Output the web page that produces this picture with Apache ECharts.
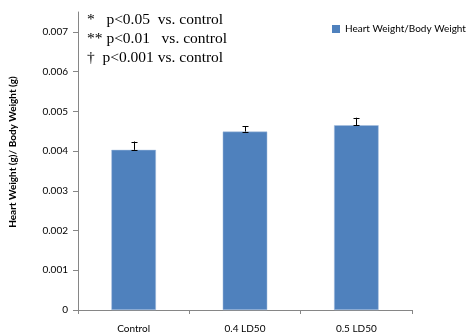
<!DOCTYPE html>
<html><head><meta charset="utf-8">
<script src="https://cdn.jsdelivr.net/npm/echarts@6/dist/echarts.min.js"></script>
<style>html,body{margin:0;padding:0;background:#fff}#c{width:468px;height:334px}</style>
</head><body><div id="c"></div>
<script>
const categories = ['Control', '0.4 LD50', '0.5 LD50'];
const values = [0.00403, 0.00449, 0.00465];
const errors = [0.00021, 0.00013, 0.00019];
const yTicks = [0, 0.001, 0.002, 0.003, 0.004, 0.005, 0.006, 0.007];
const seriesName = 'Heart Weight/Body Weight';
const yTitle = 'Heart Weight (g)/ Body Weight (g)';
const notes = ['*   p<0.05  vs. control', '** p<0.01   vs. control', '†  p<0.001 vs. control'];

const chart = echarts.init(document.getElementById('c'), null, {renderer: 'canvas'});
const font = 'Lato, "Open Sans", sans-serif';
chart.setOption({
  animation: false,
  grid: {left: 78, right: 56, top: 12, bottom: 23},
  legend: {
    data: [seriesName], left: 332, top: 24, padding: 0, itemWidth: 8, itemHeight: 8, itemGap: 2,
    icon: 'rect', itemStyle: {borderWidth: 0},
    textStyle: {fontSize: 10, color: '#000', fontFamily: font}
  },
  xAxis: {
    type: 'category', data: categories,
    axisLine: {lineStyle: {color: '#868686'}},
    axisTick: {show: true, length: 4, lineStyle: {color: '#868686'}},
    axisLabel: {fontSize: 10, color: '#000', margin: 14, fontFamily: font}
  },
  yAxis: {
    type: 'value', min: 0, max: 0.0075,
    axisLine: {show: true, lineStyle: {color: '#868686'}},
    axisTick: {show: true, length: 5, customValues: yTicks, lineStyle: {color: '#868686'}},
    axisLabel: {fontSize: 10, color: '#000', margin: 10, fontFamily: font, customValues: yTicks,
      formatter: v => v === 0 ? '0' : v.toFixed(3)},
    splitLine: {show: false}
  },
  graphic: [
    {
      type: 'text', x: 13, y: 152, rotation: Math.PI / 2,
      style: {text: yTitle, font: 'bold 10px ' + font, fill: '#000', align: 'center', verticalAlign: 'middle'}
    }
  ].concat(notes.map((t, i) => ({
    type: 'text', left: 87, top: 12 + i * 19,
    style: {text: t, font: '15.5px "Liberation Serif", "Times New Roman", serif', fill: '#000'}
  }))),
  series: [
    {
      name: seriesName, type: 'bar', data: values, barWidth: '40%',
      itemStyle: {color: '#4F81BD', borderColor: '#A7BFDE', borderWidth: 0.5}
    },
    {
      type: 'custom', name: 'err', z: 5,
      data: values.map((v, i) => [i, v, v + errors[i]]),
      renderItem: (params, api) => {
        const lo = api.coord([api.value(0), api.value(1)]);
        const hi = api.coord([api.value(0), api.value(2)]);
        const x = Math.round(lo[0]) + 0.5, w = 3;
        const st = {stroke: '#000', lineWidth: 1};
        return {type: 'group', children: [
          {type: 'line', shape: {x1: x, y1: lo[1], x2: x, y2: hi[1]}, style: st},
          {type: 'line', shape: {x1: x - w, y1: Math.round(hi[1]) + 0.5, x2: x + w, y2: Math.round(hi[1]) + 0.5}, style: st},
          {type: 'line', shape: {x1: x - w, y1: Math.round(lo[1]) + 0.5, x2: x + w, y2: Math.round(lo[1]) + 0.5}, style: st}
        ]};
      }
    }
  ]
});
</script></body></html>
